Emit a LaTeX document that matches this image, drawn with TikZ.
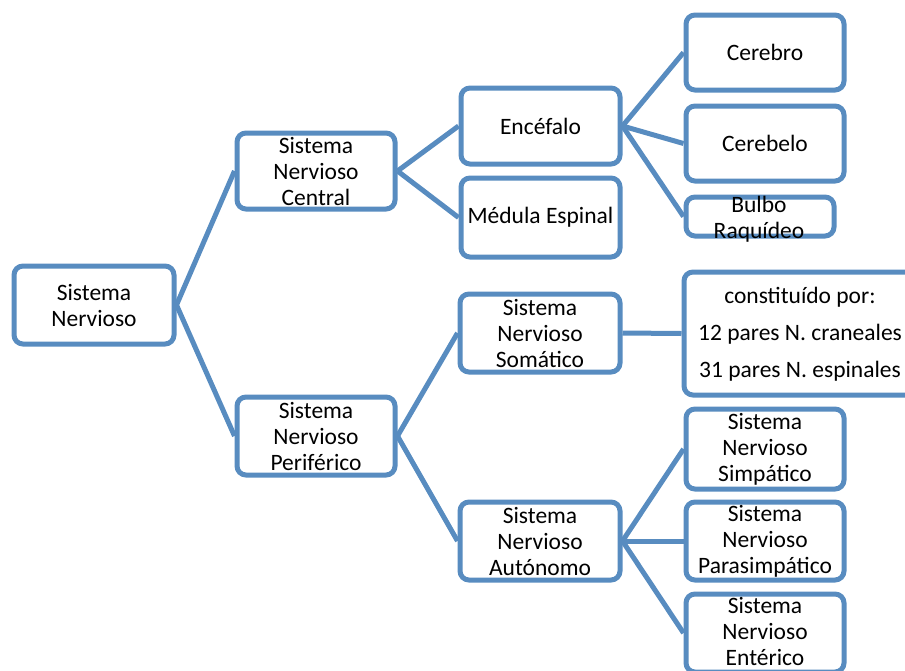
\documentclass[tikz,border=0pt]{standalone}
\usepackage{fontspec}
\setmainfont{Carlito}
\definecolor{boxblue}{RGB}{88,140,192}
\begin{document}
\begin{tikzpicture}[x=1pt,y=-1pt,
  every node/.style={font=\fontsize{23.5}{26}\selectfont, text=black},
  box/.style={draw=boxblue, line width=5pt, rounded corners=9pt, fill=white,
    inner sep=0pt, align=center, minimum width=#1},
  box/.default=158pt,
  link/.style={draw=boxblue, line width=5pt}]
\useasboundingbox (0,0) rectangle (905,670);
\clip (0,0) rectangle (905,670);

% root
\node[box=160pt, minimum height=78pt] (sn) at (94,305) {Sistema\\Nervioso};

% central branch
\node[box, minimum height=76pt] (snc) at (316,171) {Sistema\\Nervioso\\Central};
\node[box=159pt, minimum height=76pt] (enc) at (540.5,126) {Encéfalo};
\node[box=159pt, minimum height=79pt] (med) at (540.5,217.5) {Médula Espinal};
\node[box, minimum height=75pt] (cer) at (765,52.5) {Cerebro};
\node[box, minimum height=75pt] (cbl) at (765,143.5) {Cerebelo};
\node[box=148pt, minimum height=39pt] (bul) at (760,216.5) {};
\node (bultxt) at (759,219) [align=center] {Bulbo\\Raquídeo};

% peripheral branch
\node[box, minimum height=78pt] (snp) at (316,436) {Sistema\\Nervioso\\Periférico};
\node[box=160pt, minimum height=78pt] (som) at (540,333) {Sistema\\Nervioso\\Somático};
\node[box=232pt, minimum height=123pt] (con) at (800,333.5) {};
\node (contxt) at (800,334) [align=center, font=\fontsize{23.5}{37}\selectfont]
  {constituído por:\\12 pares N. craneales\\31 pares N. espinales};
\node[box=160pt, minimum height=78pt] (aut) at (540,541) {Sistema\\Nervioso\\Autónomo};
\node[box, minimum height=80pt] (sim) at (765,449) {Sistema\\Nervioso\\Simpático};
\node[box, minimum height=78pt] (par) at (765,541) {Sistema\\Nervioso\\Parasimpático};
\node[box, minimum height=78pt] (ent) at (765,633) {};
\node (enttxt) at (765,631) [align=center] {Sistema\\Nervioso\\Entérico};

% connectors
\draw[link] (sn.east) -- (snc.west);
\draw[link] (sn.east) -- (snp.west);
\draw[link] (snc.east) -- (enc.west);
\draw[link] (snc.east) -- (med.west);
\draw[link] (enc.east) -- (cer.west);
\draw[link] (enc.east) -- (cbl.west);
\draw[link] (enc.east) -- (bul.west);
\draw[link] (snp.east) -- (som.west);
\draw[link] (snp.east) -- (aut.west);
\draw[link] (som.east) -- (con.west);
\draw[link] (aut.east) -- (sim.west);
\draw[link] (aut.east) -- (par.west);
\draw[link] (aut.east) -- (ent.west);
\end{tikzpicture}
\end{document}
